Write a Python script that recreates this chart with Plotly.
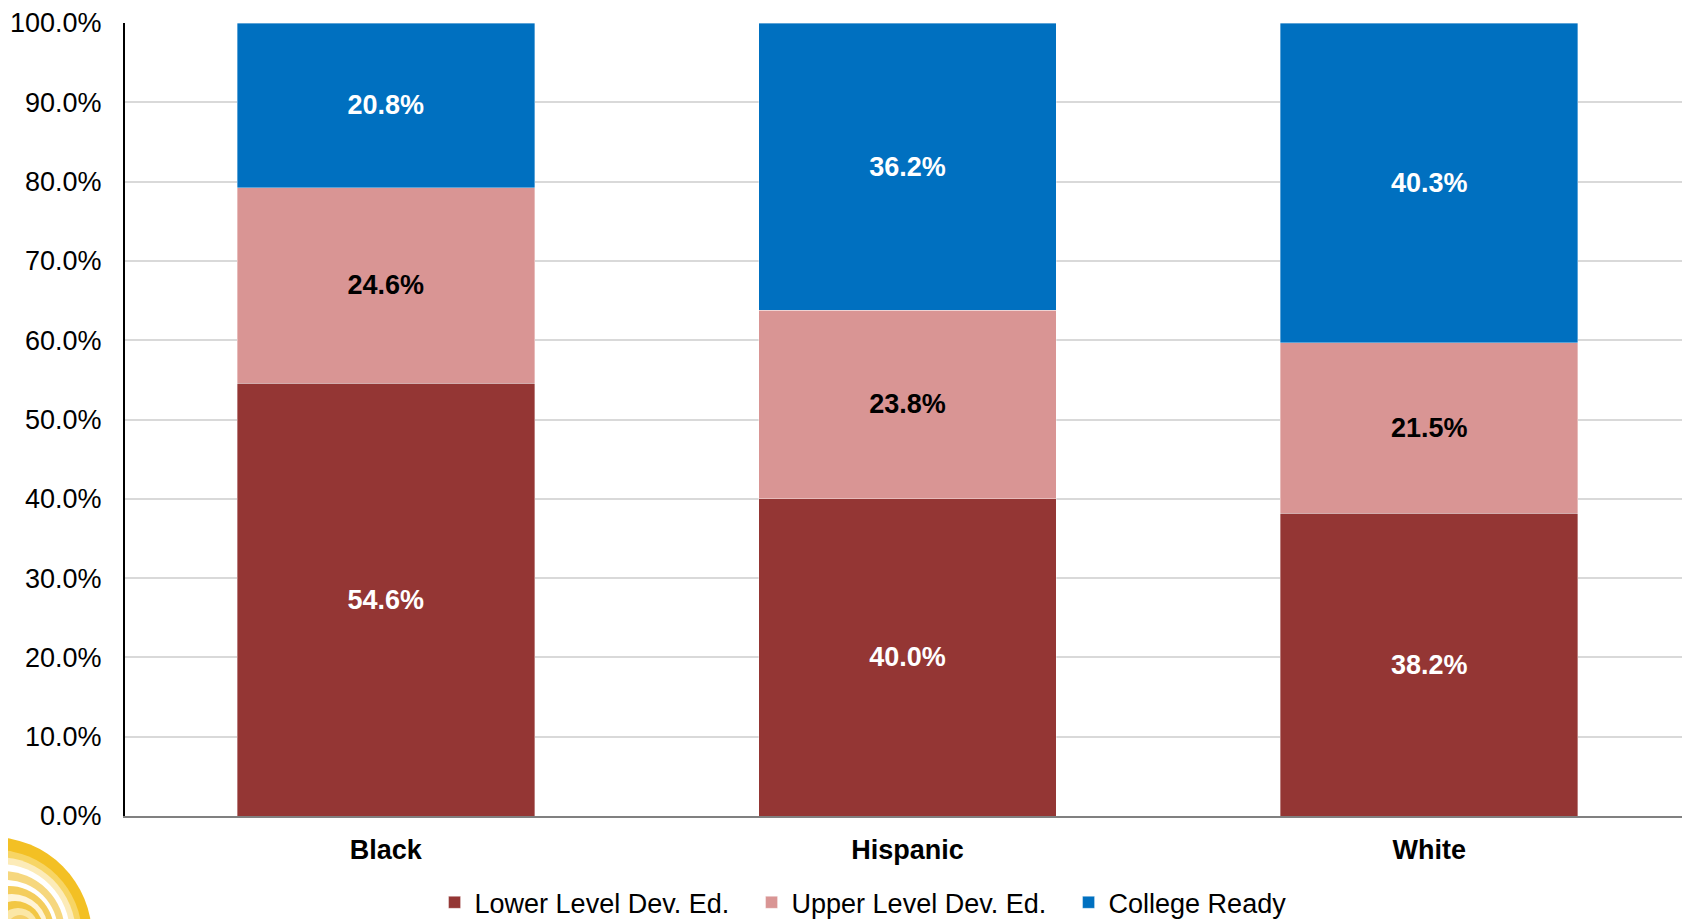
import plotly.graph_objects as go

categories = ["Black", "Hispanic", "White"]
lower_level = [0.546, 0.400, 0.382]
upper_level = [0.246, 0.238, 0.215]
college_ready = [0.208, 0.362, 0.403]
series_names = ["Lower Level Dev. Ed.", "Upper Level Dev. Ed.", "College Ready"]
series_colors = ["#943634", "#D99594", "#0070C0"]
label_colors = ["white", "black", "white"]
y_ticks = [i / 10 for i in range(11)]

FONT = "Liberation Sans, Arial, sans-serif"

fig = go.Figure()
for name, vals, col, lcol in zip(series_names, [lower_level, upper_level, college_ready],
                                 series_colors, label_colors):
    fig.add_trace(go.Bar(
        x=categories, y=vals, name=name,
        marker=dict(color=col, line=dict(width=0.6, color="rgba(255,255,255,0.6)")),
        texttemplate="%{y:.1%}", textposition="inside", insidetextanchor="middle",
        textangle=0, constraintext="none",
        textfont=dict(family=FONT, size=27, color=lcol, weight="bold"),
        hoverinfo="skip",
    ))

# decorative sun logo (bottom-left): rings as (radius, centre x, centre y) in page pixels
logo_rings = [(100, -8, 937, "#F3C024"), (86, -4, 936, "#F7D565"), (78, -2, 935, "#FCEBB8"),
              (70, 0, 934, "#FFFFFF"), (62, 3, 933, "#F6D77E"), (52, 6, 932, "#FFFFFF"),
              (45, 9, 931, "#F4CD5C"), (36, 12, 930, "#FFF4D6"), (28, 15, 929, "#F2C744"),
              (20, 18, 928, "#FBE7A6"), (12, 20, 927, "#F5D06A")]
ORIGIN_X, ORIGIN_Y = 125, 816  # page position of the plot's bottom-left corner
shapes = []
for r, px, py, c in logo_rings:
    ox, oy = px - ORIGIN_X, ORIGIN_Y - py
    shapes.append(dict(type="circle", xref="paper", yref="paper", xsizemode="pixel",
                       ysizemode="pixel", xanchor=0, yanchor=0,
                       x0=ox - r, x1=ox + r, y0=oy - r, y1=oy + r,
                       fillcolor=c, line=dict(width=0), layer="below"))

fig.update_layout(
    barmode="stack",
    bargap=0.43,
    width=1682, height=931,
    margin=dict(l=117, r=0, t=13, b=123),
    paper_bgcolor="white", plot_bgcolor="white",
    font=dict(family=FONT, color="black"),
    showlegend=True,
    legend=dict(orientation="h", x=0.1978, xanchor="left", y=-0.1094, yanchor="middle",
                font=dict(family=FONT, size=27, color="black"), traceorder="normal",
                entrywidth=272, entrywidthmode="pixels", itemclick=False),
    shapes=shapes,
)
fig.update_xaxes(
    showline=True, linecolor="#808080", linewidth=2,
    ticks="", tickfont=dict(family=FONT, size=27, color="black", weight="bold"),
    ticklabelstandoff=9, showgrid=False,
)
fig.update_yaxes(
    range=[0, 1.0], tickvals=y_ticks, tickformat=".1%",
    showline=True, linecolor="black", linewidth=2,
    showgrid=True, gridcolor="#D9D9D9", gridwidth=1.5,
    ticks="", ticklabelstandoff=16, ticklabeloverflow="allow",
    tickfont=dict(family=FONT, size=27, color="black"), zeroline=False,
)
fig.write_html("out.html")
